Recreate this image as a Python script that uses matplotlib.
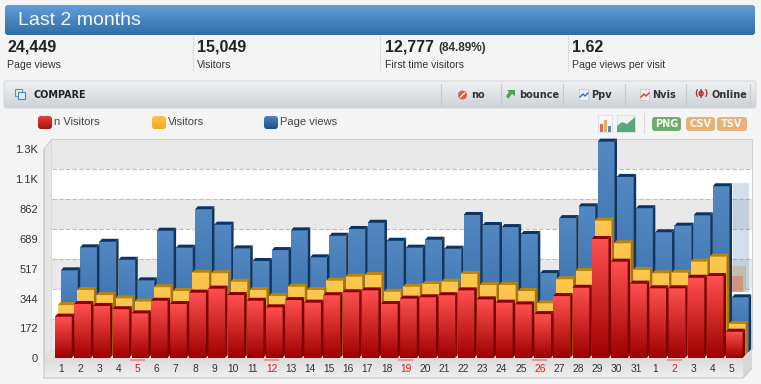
#!/usr/bin/env python3
"""Panel de visitas de los ultimos 2 meses, barras 3D apiladas por detras."""

import numpy as np
import matplotlib
matplotlib.use('Agg')
import matplotlib.pyplot as plt
from matplotlib.patches import Circle, FancyBboxPatch, Polygon, Rectangle

# ===================== DATOS =====================

DIAS = [1, 2, 3, 4, 5, 6, 7, 8, 9, 10, 11, 12, 13, 14, 15, 16, 17, 18, 19, 20,
        21, 22, 23, 24, 25, 26, 27, 28, 29, 30, 31, 1, 2, 3, 4, 5]
DOMINGOS = [4, 11, 18, 25, 32]

PAGE_VIEWS = [507, 640, 672, 568, 449, 736, 638, 860, 771, 634, 561, 624,
              738, 582, 707, 746, 782, 678, 638, 684, 632, 827, 769, 757,
              717, 491, 809, 877, 1251, 1047, 866, 727, 765, 825, 993, 351]
VISITORS = [306, 393, 364, 345, 326, 409, 387, 493, 490, 441, 393, 358,
            412, 393, 447, 470, 480, 383, 412, 428, 441, 486, 422, 422,
            387, 316, 455, 503, 794, 663, 509, 490, 493, 557, 586, 197]
N_VISITORS = [239, 312, 301, 282, 258, 331, 312, 378, 401, 364, 331, 293,
              335, 320, 363, 380, 391, 312, 343, 351, 363, 391, 339, 320,
              310, 254, 358, 406, 688, 557, 430, 403, 403, 464, 474, 152]

# prevision del ultimo dia (barras translucidas, se cortan en GHOST_BASE)
GHOST_PAGE_VIEWS = 1010
GHOST_VISITORS = 532
GHOST_N_VISITORS = 474
GHOST_BASE = 380

Y_TICKS = [0, 172, 344, 517, 689, 862, 1034, 1206]
Y_LABELS = ['0', '172', '344', '517', '689', '862', '1.1K', '1.3K']

RESUMEN = [(7, '24,449', 'Page views'), (197, '15,049', 'Visitors'),
           (385, '12,777', 'First time visitors'),
           (572, '1.62', 'Page views per visit')]
BOTONES = [(471, 'no'), (519, 'bounce'), (591, 'Ppv'), (652, 'Nvis'), (711, 'Online')]
LEYENDA = [(38, '#f03a3a', '#a81010', 'n Visitors'), (152, '#fcc24a', '#f0a828', 'Visitors'),
           (264, '#4f83bd', '#1f4f86', 'Page views')]

# ===================== ESCALAS =====================

W, H = 761, 384
PX_POR_DIA = 19.17
PX_POR_VALOR = 29.8 / 172.3
X0, Y0 = 63.4, 358   # pixel del dia 0 y del valor 0
ANCHO = 16.7 / PX_POR_DIA
DX = 2.5 / PX_POR_DIA
DY = 3 / PX_POR_VALOR
FUENTE = 'Liberation Sans'

plt.rcParams['font.family'] = [FUENTE, 'DejaVu Sans']

fig = plt.figure(figsize=(W / 100, H / 100), dpi=100, facecolor='#f4f4f5')

# fondo en pixeles
bg = fig.add_axes([0, 0, 1, 1], zorder=0)
bg.set_xlim(0, W)
bg.set_ylim(H, 0)
bg.axis('off')


def degradado(ax, extent, arriba, abajo, zorder=1, clip=None):
    c = np.linspace(matplotlib.colors.to_rgb(arriba),
                    matplotlib.colors.to_rgb(abajo), 64)[:, None, :]
    im = ax.imshow(c, extent=extent, aspect='auto', zorder=zorder,
                   interpolation='bilinear')
    if clip is not None:
        im.set_clip_path(clip)
    return im


def caja_redonda(x, y, w, h, arriba, abajo, radio=3, borde='none', z=1):
    caja = FancyBboxPatch((x, y), w, h, boxstyle=f'round,pad=0,rounding_size={radio}',
                          fc='none', ec=borde, lw=0.8, zorder=z + 1)
    bg.add_patch(caja)
    degradado(bg, (x, x + w, y + h, y), arriba, abajo, zorder=z, clip=caja)


# cabecera
caja_redonda(5, 5, 750, 30, '#639dda', '#2f6ea6')
bg.text(18, 20.5, 'Last 2 months', color='#f2f7fc', fontsize=14, va='center')

# fila de resumen
for x, numero, etiqueta in RESUMEN:
    bg.text(x, 47, numero, fontsize=11.5, fontweight='bold', color='#222222', va='center')
    bg.text(x, 65, etiqueta, fontsize=7.6, color='#333333', va='center')
bg.text(438, 48, '(84.89%)', fontsize=8.5, fontweight='bold', color='#333333', va='center')
for x in [192.5, 380, 567.5]:
    bg.plot([x, x], [36, 71], color='#c8c8c8', lw=0.8, ls=(0, (1, 1)))

# barra compare
caja_redonda(4, 81, 752, 27, '#f0f2f4', '#ccd2d8', radio=2, borde='#d4d8dc')
bg.add_patch(Rectangle((15, 89), 7, 7, fc='#e8eef4', ec='#6f8fae', lw=0.8, zorder=3))
bg.add_patch(Rectangle((18, 92), 7, 7, fc='#dcebf8', ec='#4f87b8', lw=0.8, zorder=3))
bg.text(33, 95, 'COMPARE', fontsize=6.9, fontweight='bold', color='#222222',
        va='center', family=['DejaVu Sans'], zorder=3)
for x, texto in BOTONES:
    bg.text(x, 95, texto, fontsize=7, fontweight='bold', color='#333333',
            va='center', family=['DejaVu Sans'], zorder=3)
for x in [441, 501, 563, 625, 686, 750]:
    bg.plot([x, x], [84, 105], color='#c4cad0', lw=0.8, zorder=3)
bg.add_patch(Circle((462.5, 95), 4.5, fc='#e2574c', ec='none', zorder=3))
bg.plot([460.5, 464.5], [97, 93], color='white', lw=1, zorder=4)
bg.add_patch(Polygon([(507, 90), (515, 90), (515, 96), (512, 94), (508, 99), (506, 96), (509, 92)],
                     fc='#4fa34f', ec='none', zorder=3))
bg.add_patch(Rectangle((579, 89), 9, 11, fc='#e8f0f8', ec='#b8c8d8', lw=0.5, zorder=3))
bg.plot([580, 583, 585, 588], [97, 94, 96, 93], color='#3a6ea8', lw=1, zorder=4)
bg.add_patch(Rectangle((640, 89), 9, 11, fc='#f8ecec', ec='#d8b8b8', lw=0.5, zorder=3))
bg.plot([641, 644, 646, 649], [97, 94, 96, 93], color='#c04040', lw=1, zorder=4)
bg.text(701, 94, '(ϕ)', fontsize=6, fontweight='bold', color='#b03030', ha='center',
        va='center', family=['DejaVu Sans'], zorder=3)

# leyenda
for x, arriba, abajo, texto in LEYENDA:
    caja_redonda(x, 116, 14, 13, arriba, abajo, z=3)
    bg.text(x + 15.5, 122, texto, fontsize=8, color='#444444', va='center', zorder=3)

# iconos y exportar
bg.add_patch(Rectangle((598, 115), 14, 17, fc='#f8f8f8', ec='#d4d8dc', lw=0.5, zorder=3))
for x, h, c in [(600, 8, '#d86a5a'), (604, 12, '#e0b060'), (608, 6, '#5a88b8')]:
    bg.add_patch(Rectangle((x, 132 - h), 3, h, fc=c, ec='none', zorder=3))
bg.add_patch(Rectangle((617, 115), 18, 17, fc='#eef4f0', ec='#d4d8dc', lw=0.5, zorder=3))
bg.add_patch(Polygon([(617, 132), (617, 126), (622, 122), (627, 124), (635, 117), (635, 132)],
                     fc='#58a878', ec='none', zorder=4))
bg.plot([644, 644], [113, 133], color='#d8d8d8', lw=0.8)
for x, w, color, texto in [(652, 29, '#72ab72', 'PNG'), (686, 29, '#e5b27c', 'CSV'),
                           (717, 30, '#e5b27c', 'TSV')]:
    bg.add_patch(FancyBboxPatch((x, 117), w, 14, boxstyle='round,pad=0,rounding_size=3',
                                fc=color, ec='none', zorder=3))
    bg.text(x + w / 2, 124.3, texto, fontsize=7, fontweight='bold', color='#f8f6ee',
            ha='center', va='center', family=['DejaVu Sans'], zorder=4)

# paredes y suelo del grafico
bg.add_patch(Polygon([(44, 149), (52, 139), (52, 349), (44, 358)], fc='#e6e6e6', ec='#cfcfcf', lw=0.7))
for i, y in enumerate(range(139, 349, 30)):
    alto = min(30, 349.5 - y)
    bg.add_patch(Rectangle((52, y), 700, alto, fc='#e9e9e9' if i % 2 == 0 else '#ffffff', ec='none'))
    if i > 0:
        bg.plot([52, 752], [y, y], color='#bdbdbd', lw=0.8, ls=(0, (4, 2)))
bg.plot([52, 752, 752], [139, 139, 349], color='#cfcfcf', lw=0.8)
bg.add_patch(Polygon([(44, 358), (52, 349), (752, 349), (743, 358)], fc='#e2e2e2', ec='none'))
degradado(bg, (44, 743, 378, 358), '#dcdcdc', '#f0f0f0', zorder=1)
bg.add_patch(Polygon([(743, 358), (752, 349), (752, 368), (743, 378)], fc='#d8d8d8', ec='none'))
bg.plot([44, 44, 743, 752], [149, 378, 378, 368], color='#c8c8c8', lw=0.8)
bg.set_xlim(0, W)
bg.set_ylim(H, 0)

# ===================== BARRAS =====================

# ejes con escala real, colocados para que coincida con los pixeles
ax = fig.add_axes([45 / W, (H - 358) / H, 710 / W, 220 / H], zorder=1)
ax.patch.set_alpha(0)
for lado in ax.spines.values():
    lado.set_visible(False)
xlim = ((45 - X0) / PX_POR_DIA, (755 - X0) / PX_POR_DIA)
ylim = (0, 220 / PX_POR_VALOR)


def barras_3d(valores, desp_px, base_px, arriba, abajo, lado, tapa, z):
    base = base_px / PX_POR_VALOR
    for i, v in enumerate(valores):
        x = i + (desp_px - 8.35) / PX_POR_DIA
        ax.bar(x, v - base, ANCHO, bottom=base, align='edge', color=abajo, zorder=z)
        degradado(ax, (x, x + ANCHO, base, v), arriba, abajo, zorder=z + 0.1)
        ax.fill([x + ANCHO, x + ANCHO + DX, x + ANCHO + DX, x + ANCHO],
                [base, base + DY, v + DY, v], color=lado, lw=0, zorder=z + 0.2)
        ax.fill([x, x + DX, x + ANCHO + DX, x + ANCHO],
                [v, v + DY, v + DY, v], color=tapa, lw=0, zorder=z + 0.2)
        z += 0.001


# barras translucidas de prevision en el ultimo dia, detras de las reales
ULTIMO = len(DIAS) - 1
for valor, desp, color, a in [(GHOST_PAGE_VIEWS, 6.5, '#6a94c0', 0.3),
                              (GHOST_VISITORS, 3.5, '#c89a50', 0.35),
                              (GHOST_N_VISITORS, 1, '#e0503c', 0.35)]:
    ax.bar(ULTIMO + (desp - 8.35) / PX_POR_DIA, valor - GHOST_BASE, 16 / PX_POR_DIA,
           bottom=GHOST_BASE, align='edge', color=color, alpha=a, zorder=2, clip_on=False)

barras_3d(PAGE_VIEWS, 6, 6, '#5488c2', '#2c64a0', '#12365f', '#0f3360', 3)
barras_3d(VISITORS, 3, 3, '#fcc850', '#f2ae35', '#a9740f', '#b8850f', 5)
barras_3d(N_VISITORS, 0, 0, '#ff5050', '#a00000', '#7a0000', '#8a0000', 7)

ax.set_xlim(*xlim)
ax.set_ylim(*ylim)
ax.set_xticks(np.arange(len(DIAS)) - 0.14)
ax.set_xticklabels(DIAS, fontsize=7.4, color='#333333')
ax.set_yticks(Y_TICKS)
ax.set_yticklabels(Y_LABELS, fontsize=8, color='#333333')
ax.tick_params(axis='both', length=0)
ax.tick_params(axis='x', pad=4.5)
ax.tick_params(axis='y', pad=5)

# domingos en rojo con su marca
for i in DOMINGOS:
    ax.get_xticklabels()[i].set_color('#d02020')
    bg.plot([X0 + PX_POR_DIA * (i - 0.14) - 6.5, X0 + PX_POR_DIA * (i - 0.14) + 6.5],
            [360, 360], color='#e89a9a', lw=1.5, zorder=3)

fig.savefig('out.png', dpi=100, facecolor=fig.get_facecolor())
